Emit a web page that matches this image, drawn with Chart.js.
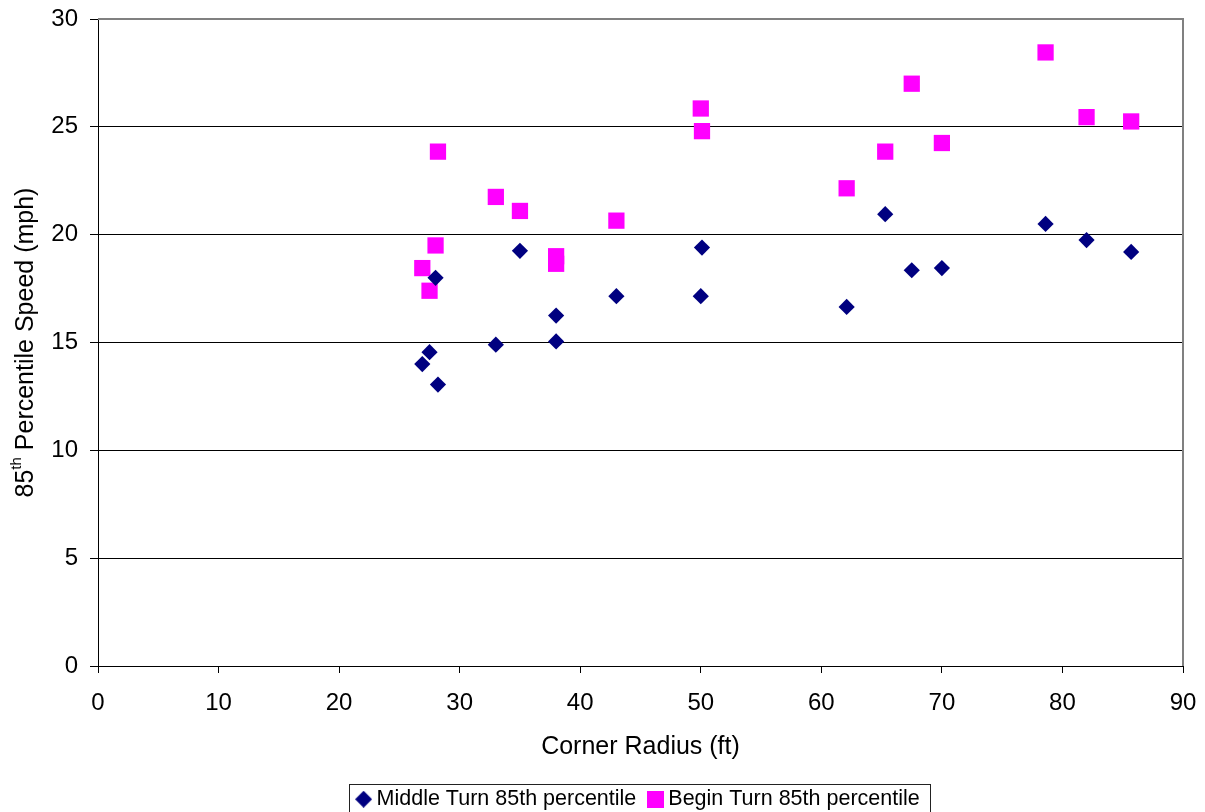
<!DOCTYPE html>
<html><head><meta charset="utf-8">
<script src="https://cdn.jsdelivr.net/npm/chart.js@4.4.1/dist/chart.umd.min.js"></script>
<style>html,body{margin:0;padding:0;overflow:hidden;background:#fff;width:1205px;height:812px}canvas{display:block}</style>
</head><body>
<canvas id="c" width="1205" height="820" style="width:1205px;height:820px"></canvas>
<script>
const seriesNames = ['Middle Turn 85th percentile', 'Begin Turn 85th percentile'];
const middleRadius = [26.9, 27.5, 28.0, 28.2, 33.0, 35.0, 38.0, 38.0, 43.0, 50.0, 50.1, 62.1, 65.3, 67.5, 70.0, 78.6, 82.0, 85.7];
const middleSpeed  = [14.0, 14.55, 18.0, 13.05, 14.9, 19.25, 16.25, 15.05, 17.15, 17.15, 19.4, 16.65, 20.95, 18.35, 18.45, 20.5, 19.75, 19.2];
const beginRadius  = [26.9, 27.5, 28.0, 28.2, 33.0, 35.0, 38.0, 38.0, 43.0, 50.0, 50.1, 62.1, 65.3, 67.5, 70.0, 78.6, 82.0, 85.7];
const beginSpeed   = [18.45, 17.4, 19.5, 23.85, 21.75, 21.1, 19.0, 18.65, 20.65, 25.85, 24.8, 22.15, 23.85, 27.0, 24.25, 28.45, 25.45, 25.25];
const xTicks = [0, 10, 20, 30, 40, 50, 60, 70, 80, 90];
const yTicks = [0, 5, 10, 15, 20, 25, 30];
const xTitle = 'Corner Radius (ft)';
const yTitleParts = ['85', 'th', ' Percentile Speed (mph)'];

const FONT = "'Liberation Sans', Arial, sans-serif";
const NAVY = '#000080', MAGENTA = '#FF00FF';

function makeMarker(kind, color) {
  const c = document.createElement('canvas');
  c.width = 17; c.height = 17;
  const g = c.getContext('2d');
  g.fillStyle = color;
  if (kind === 'diamond') {
    g.beginPath(); g.moveTo(8.5, 0); g.lineTo(17, 8.5); g.lineTo(8.5, 17); g.lineTo(0, 8.5); g.closePath(); g.fill();
  } else {
    g.fillRect(0, 0, 17, 17);
  }
  return c;
}
const legendMarkers = [makeMarker('diamond', NAVY), makeMarker('square', MAGENTA)];

const framePlugin = {
  id: 'frame',
  beforeDatasetsDraw(chart) {
    const {ctx, chartArea: a} = chart;
    ctx.save();
    ctx.strokeStyle = '#808080';
    ctx.lineWidth = 2;
    ctx.beginPath();
    ctx.moveTo(a.left, a.top);
    ctx.lineTo(a.right, a.top);
    ctx.lineTo(a.right, a.bottom);
    ctx.stroke();
    ctx.restore();
  },
  afterDraw(chart) {
    const {ctx, chartArea: a} = chart;
    ctx.save();
    ctx.fillStyle = '#000';
    ctx.textBaseline = 'middle';
    ctx.textAlign = 'left';
    const big = '25px ' + FONT, small = '15px ' + FONT;
    ctx.font = big; const w0 = ctx.measureText(yTitleParts[0]).width; const w2 = ctx.measureText(yTitleParts[2]).width;
    ctx.font = small; const w1 = ctx.measureText(yTitleParts[1]).width;
    const total = w0 + w1 + w2;
    ctx.translate(26, (a.top + a.bottom) / 2);
    ctx.rotate(-Math.PI / 2);
    let x = -total / 2;
    ctx.font = big; ctx.fillText(yTitleParts[0], x, 0); x += w0;
    ctx.font = small; ctx.fillText(yTitleParts[1], x, -9); x += w1;
    ctx.font = big; ctx.fillText(yTitleParts[2], x, 0);
    ctx.restore();
    const hb = chart.legend.legendHitBoxes;
    if (hb && hb.length) {
      const l = Math.round(hb[0].left - 12.5) + 0.5;
      const last = hb[hb.length - 1];
      const r = Math.round(last.left + last.width + 10) + 0.5;
      const t = Math.round(hb[0].top - 5) + 0.5;
      ctx.save();
      ctx.strokeStyle = '#222';
      ctx.lineWidth = 1;
      ctx.strokeRect(l, t, r - l, 80);
      ctx.restore();
    }
  }
};

new Chart(document.getElementById('c'), {
  type: 'scatter',
  data: {
    datasets: [
      {
        label: seriesNames[0],
        data: middleRadius.map((x, i) => ({x, y: middleSpeed[i]})),
        pointStyle: 'rectRot',
        pointRadius: 8.1,
        pointHoverRadius: 8.1,
        backgroundColor: NAVY,
        borderColor: NAVY,
        borderWidth: 0
      },
      {
        label: seriesNames[1],
        data: beginRadius.map((x, i) => ({x, y: beginSpeed[i]})),
        pointStyle: 'rect',
        pointRadius: 11.5,
        pointHoverRadius: 11.5,
        backgroundColor: MAGENTA,
        borderColor: MAGENTA,
        borderWidth: 0
      }
    ]
  },
  options: {
    responsive: false,
    animation: false,
    events: [],
    layout: {autoPadding: false, padding: {top: 19, right: 22, left: 0, bottom: 0}},
    scales: {
      x: {
        type: 'linear', min: 0, max: 90,
        afterBuildTicks: s => { s.ticks = xTicks.map(v => ({value: v})); },
        afterFit: s => { s.height = 105.75; s.paddingLeft = 0; s.paddingRight = 0; },
        grid: {drawOnChartArea: false, drawTicks: true, tickLength: 7, tickColor: '#000', color: '#000'},
        border: {display: true, color: '#000', width: 1},
        ticks: {color: '#000', padding: 16, font: {family: FONT, size: 24}, maxRotation: 0, autoSkip: false},
        title: {display: true, text: xTitle, color: '#000', font: {family: FONT, size: 25}, padding: {top: 0, bottom: 10}}
      },
      y: {
        type: 'linear', min: 0, max: 30,
        afterBuildTicks: s => { s.ticks = yTicks.map(v => ({value: v})); },
        afterFit: s => { s.width = 98; s.paddingTop = 0; s.paddingBottom = 0; },
        grid: {drawTicks: true, tickLength: 8, tickColor: '#000', color: c => (c.tick && c.tick.value === 30) ? '#808080' : '#000', lineWidth: 1},
        border: {display: true, color: '#000', width: 1},
        ticks: {color: '#000', padding: 12, font: {family: FONT, size: 24}, autoSkip: false}
      }
    },
    plugins: {
      tooltip: {enabled: false},
      legend: {
        position: 'bottom',
        fullSize: false,
        labels: {
          usePointStyle: true,
          boxWidth: 4.5,
          boxHeight: 17,
          padding: 16.75,
          color: '#000',
          font: {family: FONT, size: 21.5},
          generateLabels(chart) {
            const items = Chart.defaults.plugins.legend.labels.generateLabels(chart);
            items.forEach((it, i) => { it.pointStyle = legendMarkers[i]; });
            return items;
          }
        }
      }
    }
  },
  plugins: [framePlugin]
});
</script>
</body></html>
